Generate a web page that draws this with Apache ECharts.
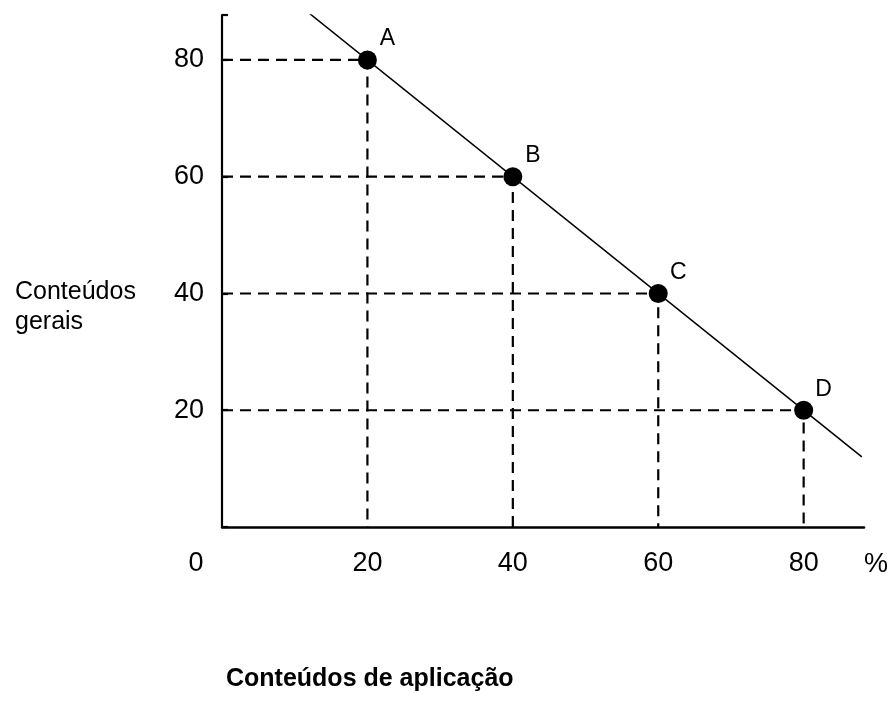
<!DOCTYPE html>
<html><head><meta charset="utf-8">
<script src="https://cdn.jsdelivr.net/npm/echarts@6/dist/echarts.min.js"></script>
<style>html,body{margin:0;padding:0;background:#fff}#c{width:896px;height:721px}</style>
</head><body><div id="c"></div>
<script>
const pointLabels = ['A', 'B', 'C', 'D'];
const aplicacao = [20, 40, 60, 80];   // Conteúdos de aplicação (%)
const gerais = [80, 60, 40, 20];      // Conteúdos gerais (%)
const lineX = [12, 88];
const lineY = [88, 12];
const xTicks = [0, 20, 40, 60, 80];
const yTicks = [20, 40, 60, 80];

const FONT = 'Liberation Sans, Arial, Helvetica, sans-serif';
const chart = echarts.init(document.getElementById('c'), null, {renderer: 'canvas'});

const guideSeries = aplicacao.map((x, i) => ({
  type: 'line',
  data: [[0, gerais[i]], [x, gerais[i]], [x, 0]],
  symbol: 'none',
  silent: true,
  z: 1,
  lineStyle: {color: '#000', width: 2.2, type: [11, 7]}
}));

chart.setOption({
  animation: false,
  backgroundColor: '#fff',
  textStyle: {fontFamily: FONT},
  title: [
    {text: 'Conteúdos\ngerais', left: 10, top: 272,
     textStyle: {fontFamily: FONT, fontSize: 25, fontWeight: 'normal', lineHeight: 30, color: '#000'}},
    {text: 'Conteúdos de aplicação', left: 221, top: 662,
     textStyle: {fontFamily: FONT, fontSize: 25, fontWeight: 'bold', color: '#000'}}
  ],
  grid: {left: 222, right: 32, top: 15, bottom: 194, containLabel: false},
  xAxis: {
    type: 'value', min: 0, max: 88.3, interval: 20,
    axisLine: {show: true, lineStyle: {color: '#000', width: 2.5}},
    axisTick: {show: false},
    splitLine: {show: false},
    axisLabel: {
      margin: 23, fontSize: 27, color: '#000', fontFamily: FONT,
      formatter: v => xTicks.includes(v) ? (v === 0 ? '{z|0}' : String(v)) : '',
      rich: {z: {fontSize: 27, color: '#000', fontFamily: FONT, padding: [0, 52, 0, 0]}}
    },
    name: '%', nameLocation: 'end', nameGap: 0,
    nameTextStyle: {fontSize: 27, color: '#000', fontFamily: FONT, verticalAlign: 'top', padding: [24, 0, 0, 0]}
  },
  yAxis: {
    type: 'value', min: 0, max: 87.7, interval: 20,
    axisLine: {show: true, lineStyle: {color: '#000', width: 2.2}},
    axisTick: {show: true, inside: true, length: 6, lineStyle: {color: '#000', width: 2.2}},
    splitLine: {show: false},
    axisLabel: {
      margin: 18, fontSize: 27, color: '#000', fontFamily: FONT,
      formatter: v => yTicks.includes(v) ? String(v) : ''
    }
  },
  series: [
    {
      type: 'line',
      data: lineX.map((x, i) => [x, lineY[i]]),
      symbol: 'none', silent: true, z: 2,
      lineStyle: {color: '#000', width: 1.5}
    },
    ...guideSeries,
    {
      type: 'scatter',
      data: aplicacao.map((x, i) => ({name: pointLabels[i], value: [x, gerais[i]]})),
      symbol: 'circle', symbolSize: 19, z: 3,
      itemStyle: {color: '#000', opacity: 1},
      label: {
        show: true, formatter: p => p.name, position: 'inside', offset: [20, -21],
        fontSize: 23, color: '#000', fontFamily: FONT
      }
    }
  ]
});
</script>
</body></html>
